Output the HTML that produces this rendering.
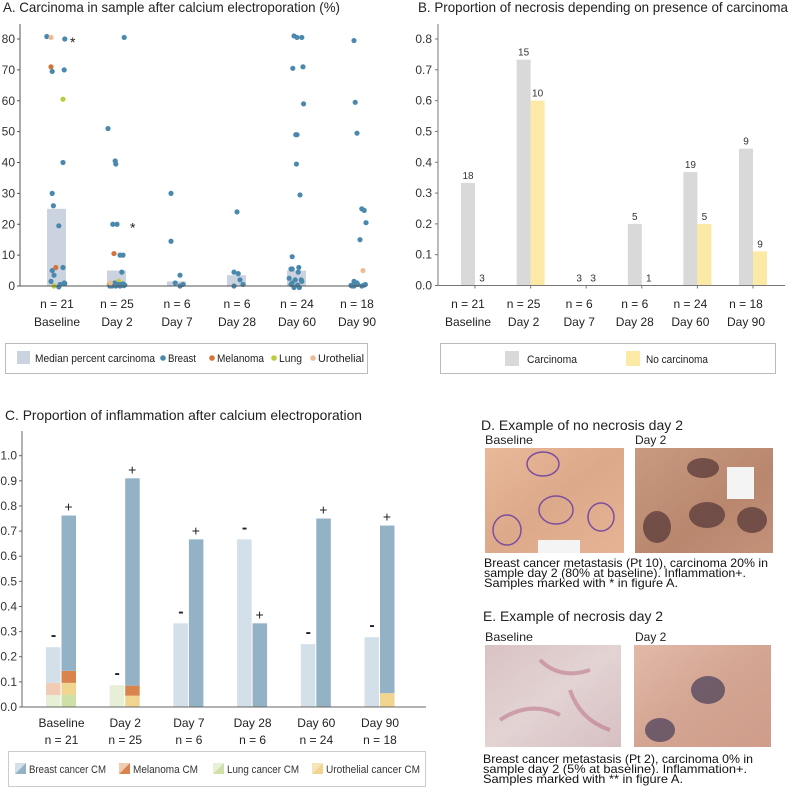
<!DOCTYPE html>
<html><head><meta charset="utf-8"><style>
html,body{margin:0;padding:0;background:#fff;}
svg{display:block;font-family:"Liberation Sans",sans-serif;}
.t{font-size:12px;fill:#222;}
.tk{font-size:12px;fill:#333;}
.ttl{font-size:14px;fill:#222;}
.cap{font-size:12px;fill:#111;}
</style></head><body>
<svg id="fig" width="790" height="788" viewBox="0 0 790 788">
<defs>
<linearGradient id="gD1" x1="0" y1="0" x2="1" y2="1"><stop offset="0" stop-color="#e9b99a"/><stop offset="0.5" stop-color="#dca98a"/><stop offset="1" stop-color="#e6b494"/></linearGradient>
<linearGradient id="gD2" x1="0" y1="0" x2="1" y2="1"><stop offset="0" stop-color="#c99a80"/><stop offset="0.6" stop-color="#b8876e"/><stop offset="1" stop-color="#c49179"/></linearGradient>
<linearGradient id="gE1" x1="0" y1="0" x2="1" y2="1"><stop offset="0" stop-color="#d9c2c4"/><stop offset="0.5" stop-color="#e3d3d3"/><stop offset="1" stop-color="#d6bfc2"/></linearGradient>
<linearGradient id="gE2" x1="0" y1="0" x2="1" y2="1"><stop offset="0" stop-color="#e2b9a8"/><stop offset="0.5" stop-color="#d3a592"/><stop offset="1" stop-color="#cf9c8a"/></linearGradient>
</defs>
<g id="panelA"></g>
<g id="panelB"></g>
<g id="panelC"></g>
<g id="panelDE">
<text class="ttl" x="481" y="430" textLength="202" lengthAdjust="spacingAndGlyphs">D. Example of no necrosis day 2</text>
<text class="t" x="485" y="444" textLength="48" lengthAdjust="spacingAndGlyphs">Baseline</text>
<text class="t" x="635" y="444">Day 2</text>
<rect x="485" y="448" width="139" height="105" fill="url(#gD1)"/>
<g fill="none" stroke="#7b4ea0" stroke-width="1.5">
<ellipse cx="543" cy="464" rx="16" ry="12"/><ellipse cx="507" cy="530" rx="14" ry="15"/><ellipse cx="556" cy="510" rx="17" ry="14"/><ellipse cx="601" cy="517" rx="13" ry="14"/></g>
<rect x="538" y="540" width="42" height="13" fill="#f4f4f4"/>
<rect x="635" y="448" width="138" height="105" fill="url(#gD2)"/>
<g fill="#5a3a3a" opacity="0.75"><ellipse cx="703" cy="468" rx="16" ry="10"/><ellipse cx="707" cy="515" rx="18" ry="13"/><ellipse cx="657" cy="527" rx="14" ry="16"/><ellipse cx="752" cy="520" rx="15" ry="13"/></g>
<rect x="727" y="467" width="27" height="32" fill="#f4f4f4"/>
<text class="cap" x="484" y="567" textLength="284" lengthAdjust="spacingAndGlyphs">Breast cancer metastasis (Pt 10), carcinoma 20% in</text>
<text class="cap" x="484" y="577" textLength="262" lengthAdjust="spacingAndGlyphs">sample day 2 (80% at baseline). Inflammation+.</text>
<text class="cap" x="484" y="587" textLength="194" lengthAdjust="spacingAndGlyphs">Samples marked with * in figure A.</text>
<text class="ttl" x="483" y="621" textLength="180" lengthAdjust="spacingAndGlyphs">E. Example of necrosis day 2</text>
<text class="t" x="485" y="641" textLength="48" lengthAdjust="spacingAndGlyphs">Baseline</text>
<text class="t" x="635" y="641">Day 2</text>
<rect x="485" y="645" width="136" height="102" fill="url(#gE1)"/>
<g stroke="#b86a80" stroke-width="4" fill="none" opacity="0.5"><path d="M540 660 q20 20 50 10 M500 720 q30 -20 60 -5 M570 690 q10 30 40 40"/></g>
<rect x="634" y="645" width="137" height="102" fill="url(#gE2)"/>
<g fill="#5f4f63" opacity="0.85"><ellipse cx="708" cy="690" rx="17" ry="14"/><ellipse cx="660" cy="730" rx="15" ry="12"/></g>
<text class="cap" x="483" y="763" textLength="270" lengthAdjust="spacingAndGlyphs">Breast cancer metastasis (Pt 2), carcinoma 0% in</text>
<text class="cap" x="483" y="773" textLength="264" lengthAdjust="spacingAndGlyphs">sample day 2 (5% at baseline).  Inflammation+.</text>
<text class="cap" x="483" y="783" textLength="200" lengthAdjust="spacingAndGlyphs">Samples marked with ** in figure A.</text>
</g>
</svg>
<script>
// ---------- shared ----------
const categories = ["Baseline","Day 2","Day 7","Day 28","Day 60","Day 90"];
const nLabels = ["n = 21","n = 25","n = 6","n = 6","n = 24","n = 18"];
// ---------- Panel A data ----------
const medianPercent = [25, 5, 1.5, 3.5, 5, 0];
const aTicks = [0,10,20,30,40,50,60,70,80];
// points: [categoryIndex, value, type, jitter(-0.5..0.5 of band)]
const pointsBaseline = [[0,80.8,"b",-0.17],[0,80.5,"u",-0.1],[0,80,"b",0.13],[0,71,"m",-0.1],[0,69.5,"b",-0.08],[0,70,"b",0.12],[0,60.5,"l",0.1],[0,40,"b",0.1],[0,30,"b",-0.08],[0,26,"b",-0.06],[0,19.5,"b",0.03],[0,6,"m",-0.02],[0,6,"b",0.1],[0,5,"b",-0.08],[0,3.5,"b",-0.05],[0,1,"b",0.12],[0,0.8,"b",0.13],[0,0,"l",-0.05],[0,-0.3,"b",0.03],[0,1.5,"b",-0.1],[0,0.5,"b",0.05]];
const pointsDay2 = [[1,51,"b",-0.15],[1,40.5,"b",-0.03],[1,39.5,"b",-0.02],[1,20,"b",-0.07],[1,20,"b",0.0],[1,80.5,"b",0.12],[1,10.5,"m",-0.05],[1,10,"b",0.05],[1,10,"b",0.1],[1,4.5,"b",0.08],[1,0.5,"l",-0.13],[1,1.5,"l",0.03],[1,0,"b",-0.12],[1,1,"b",-0.04],[1,0.5,"b",0.02],[1,0.3,"b",0.08],[1,0.3,"b",0.13],[1,0,"b",-0.08],[1,0,"b",-0.02],[1,0.7,"b",0.1],[1,0.2,"b",0.0],[1,0,"b",0.05],[1,1,"u",-0.11],[1,0.4,"b",0.06],[1,0.1,"b",0.11]];
const pointsDay7 = [[2,30,"b",-0.1],[2,14.5,"b",-0.1],[2,1,"b",-0.03],[2,3.5,"b",0.05],[2,0,"b",0.05],[2,0.5,"b",0.1]];
const pointsDay28 = [[3,24,"b",0.0],[3,4.5,"b",-0.05],[3,4,"b",0.02],[3,2,"b",0.05],[3,0.5,"b",0.1],[3,0,"b",-0.05]];
const pointsDay60 = [[4,81,"b",-0.05],[4,80.5,"b",0.0],[4,80.5,"b",0.08],[4,70.5,"b",-0.07],[4,71,"b",0.1],[4,59,"b",0.11],[4,49,"b",-0.02],[4,49,"b",0.0],[4,39.5,"b",-0.01],[4,29.5,"b",0.05],[4,9.5,"b",-0.08],[4,5.5,"b",-0.1],[4,5.5,"b",-0.08],[4,6,"b",0.03],[4,4.5,"b",0.02],[4,2.5,"b",-0.13],[4,2,"b",-0.03],[4,2,"b",0.07],[4,1.5,"b",0.08],[4,0.5,"b",-0.1],[4,-0.5,"b",-0.05],[4,-0.5,"b",0.04],[4,0.3,"b",0.01],[4,1,"b",-0.08]];
const pointsDay90 = [[5,79.5,"b",-0.05],[5,59.5,"b",-0.03],[5,49.5,"b",0.0],[5,25,"b",0.08],[5,24.5,"b",0.12],[5,20.5,"b",0.15],[5,15,"b",0.05],[5,5,"u",0.1],[5,1.5,"b",-0.05],[5,0,"b",-0.08],[5,0,"b",-0.05],[5,0.8,"b",-0.02],[5,0.5,"b",0.01],[5,0,"b",0.08],[5,0.3,"b",0.12],[5,0.5,"b",0.14],[5,1,"b",0.0],[5,0.2,"b",-0.1]];
const starMarks = [[0,80],[1,20]];
// ---------- Panel B data ----------
const necrosisCarcinoma = [0.333,0.733,0,0.2,0.368,0.444];
const necrosisNoCarcinoma = [0,0.6,0,0,0.2,0.111];
const countCarcinoma = ["18","15","3","5","19","9"];
const countNoCarcinoma = ["3","10","3","1","5","9"];
const bTicks = [0,0.1,0.2,0.3,0.4,0.5,0.6,0.7,0.8];
// ---------- Panel C data ----------
const minusLung = [0.048,0.087,0,0,0,0];
const minusMelanoma = [0.048,0,0,0,0,0];
const minusUrothelial = [0,0,0,0,0,0];
const minusBreast = [0.142,0,0.333,0.667,0.25,0.278];
const plusLung = [0.048,0,0,0,0,0];
const plusUrothelial = [0.048,0.045,0,0,0,0.055];
const plusMelanoma = [0.048,0.04,0,0,0,0];
const plusBreast = [0.618,0.825,0.667,0.333,0.75,0.667];
const cTicks = [0,0.1,0.2,0.3,0.4,0.5,0.6,0.7,0.8,0.9,1.0];

const NS="http://www.w3.org/2000/svg";
function mk(tag,attrs,parent,text){const e=document.createElementNS(NS,tag);for(const k in attrs)e.setAttribute(k,attrs[k]);if(text!==undefined)e.textContent=text;parent.appendChild(e);return e;}
const fmt1=v=>v.toFixed(1);
const LA='spacingAndGlyphs';

// ===== Panel A =====
(function(){
const g=document.getElementById('panelA');
const y0=286, per=247/80; const yA=v=>y0-v*per;
const xA=i=>57+i*60; const band=60;
let e;
e=mk('text',{x:3,y:12,class:'ttl',textLength:337,lengthAdjust:LA},g,'A.  Carcinoma in sample after calcium electroporation (%)');


medianPercent.forEach((v,i)=>{e=mk('rect',{x:xA(i)-10,y:yA(v),width:19,height:Math.max(0,y0-yA(v)),fill:'#ccd3e0'},g);

});
const col={b:'#4a88ad',m:'#d4733a',l:'#bccc3a',u:'#ecbc96'};
const all=[].concat(pointsBaseline,pointsDay2,pointsDay7,pointsDay28,pointsDay60,pointsDay90);
all.forEach(p=>{e=mk('circle',{cx:xA(p[0])+p[3]*band,cy:yA(p[1]),r:2.6,fill:col[p[2]]},g);

});
starMarks.forEach(s=>{e=mk('text',{x:xA(s[0])+13,y:yA(s[1])+8,'font-size':'14',fill:'#222'},g,'*');

});
e=mk('line',{x1:20,y1:24,x2:20,y2:y0,stroke:'#555','stroke-width':1},g);


e=mk('line',{x1:20,y1:y0,x2:366,y2:y0,stroke:'#555','stroke-width':1},g);


aTicks.forEach(t=>{mk('line',{x1:17,y1:yA(t),x2:20,y2:yA(t),stroke:'#555'},g);
e=mk('text',{x:15,y:yA(t)+4,class:'tk','text-anchor':'end'},g,String(t));

});
categories.forEach((c,i)=>{e=mk('text',{x:xA(i),y:308,class:'t','text-anchor':'middle'},g,nLabels[i]);


e=mk('text',{x:xA(i),y:326,class:'t','text-anchor':'middle'},g,c);

});
const lg=mk('g',{},g);


mk('rect',{x:5.5,y:343.5,width:362,height:30,fill:'#fff',stroke:'#bbb'},lg);
mk('rect',{x:17,y:351,width:13,height:13,fill:'#ccd3e0'},lg);
mk('text',{x:35,y:362,'font-size':'11',fill:'#222',textLength:120,lengthAdjust:LA},lg,'Median percent carcinoma');
[['Breast',163,col.b,28],['Melanoma',212,col.m,47],['Lung',274,col.l,23],['Urothelial',313,col.u,46]].forEach(a=>{
mk('circle',{cx:a[1],cy:358,r:2.8,fill:a[2]},lg);
e=mk('text',{x:a[1]+5,y:362,'font-size':'11',fill:'#222',textLength:a[3],lengthAdjust:LA},lg,a[0]);

});
})();

// ===== Panel B =====
(function(){
const g=document.getElementById('panelB');
const y0=285.5, per=246.5/0.8; const yB=v=>y0-v*per;
const xB=i=>475+i*55.6;
let e;
e=mk('text',{x:418,y:12,class:'ttl',textLength:370,lengthAdjust:LA},g,'B.  Proportion of necrosis depending on presence of carcinoma');


categories.forEach((c,i)=>{
e=mk('rect',{x:xB(i)-14,y:yB(necrosisCarcinoma[i]),width:14,height:y0-yB(necrosisCarcinoma[i]),fill:'#d9d9d9'},g);


e=mk('rect',{x:xB(i),y:yB(necrosisNoCarcinoma[i]),width:14,height:y0-yB(necrosisNoCarcinoma[i]),fill:'#fbe9a5'},g);


e=mk('text',{x:xB(i)-7,y:yB(necrosisCarcinoma[i])-4,'font-size':'10','text-anchor':'middle',fill:'#333'},g,countCarcinoma[i]);


e=mk('text',{x:xB(i)+7,y:yB(necrosisNoCarcinoma[i])-4,'font-size':'10','text-anchor':'middle',fill:'#333'},g,countNoCarcinoma[i]);


mk('line',{x1:xB(i),y1:y0,x2:xB(i),y2:y0+3,stroke:'#777'},g);
e=mk('text',{x:xB(i)-7,y:308,class:'t','text-anchor':'middle'},g,nLabels[i]);


e=mk('text',{x:xB(i)-7,y:326,class:'t','text-anchor':'middle'},g,c);


});
e=mk('line',{x1:438,y1:24,x2:438,y2:y0,stroke:'#777'},g);


e=mk('line',{x1:438,y1:y0,x2:785,y2:y0,stroke:'#777'},g);


bTicks.forEach(t=>{mk('line',{x1:435,y1:yB(t),x2:438,y2:yB(t),stroke:'#777'},g);
e=mk('text',{x:432,y:yB(t)+4,class:'tk','text-anchor':'end'},g,fmt1(t));

});
const lg=mk('g',{},g);


mk('rect',{x:440.5,y:343.5,width:335,height:30,fill:'#fff',stroke:'#bbb'},lg);
mk('rect',{x:505,y:351,width:14,height:15,fill:'#d9d9d9'},lg);
mk('text',{x:527,y:363,'font-size':'11',fill:'#222',textLength:50,lengthAdjust:LA},lg,'Carcinoma');
mk('rect',{x:626,y:351,width:14,height:15,fill:'#fbe9a5'},lg);
mk('text',{x:646,y:363,'font-size':'11',fill:'#222',textLength:62,lengthAdjust:LA},lg,'No carcinoma');
})();

// ===== Panel C =====
(function(){
const g=document.getElementById('panelC');
const y0=707, per=251.3; const yC=v=>y0-v*per;
const xC=i=>61.5+i*63.7;
let e;
e=mk('text',{x:5,y:420,class:'ttl',textLength:357,lengthAdjust:LA},g,'C. Proportion of inflammation after calcium electroporation');


const minusStacks=[[minusLung,'#e7f0d6','lung'],[minusMelanoma,'#f2cbb5','melanoma'],[minusUrothelial,'#f7e4b8','urothelial'],[minusBreast,'#d3e0ea','breast']];
const plusStacks=[[plusLung,'#cfe0a6','lung'],[plusUrothelial,'#f0d591','urothelial'],[plusMelanoma,'#d9844d','melanoma'],[plusBreast,'#93b2c6','breast']];
categories.forEach((c,i)=>{
let acc=0;
minusStacks.forEach(s=>{const v=s[0][i]; if(v>0){e=mk('rect',{x:xC(i)-15.5,y:yC(acc+v),width:14.5,height:v*per,fill:s[1]},g);

} acc+=v;});
e=mk('text',{x:xC(i)-8,y:yC(acc)-7,'font-size':'16','text-anchor':'middle',fill:'#222','font-weight':'bold'},g,'-');


acc=0;
plusStacks.forEach(s=>{const v=s[0][i]; if(v>0){e=mk('rect',{x:xC(i),y:yC(acc+v),width:14.5,height:v*per,fill:s[1]},g);

} acc+=v;});
e=mk('text',{x:xC(i)+7,y:yC(acc)-4,'font-size':'14','text-anchor':'middle',fill:'#222'},g,'+');


e=mk('text',{x:xC(i),y:727,class:'t','text-anchor':'middle'},g,c);


e=mk('text',{x:xC(i),y:744,class:'t','text-anchor':'middle'},g,nLabels[i]);


});
e=mk('line',{x1:22,y1:431,x2:22,y2:y0,stroke:'#666'},g);


e=mk('line',{x1:22,y1:y0,x2:426,y2:y0,stroke:'#666'},g);


cTicks.forEach(t=>{mk('line',{x1:19,y1:yC(t),x2:22,y2:yC(t),stroke:'#666'},g);
e=mk('text',{x:17,y:yC(t)+4,class:'tk','text-anchor':'end'},g,fmt1(t));

});
const lg=mk('g',{},g);


mk('rect',{x:8.5,y:751.5,width:417,height:35,fill:'#fff',stroke:'#ccc'},lg);
[['Breast cancer CM',15,'#d3e0ea','#93b2c6',77],['Melanoma CM',119,'#f2cbb5','#d9844d',65],['Lung cancer CM',213,'#e7f0d6','#cfe0a6',72],['Urothelial cancer CM',312,'#f7e4b8','#f0d591',94]].forEach(a=>{
mk('polygon',{points:`${a[1]},${763} ${a[1]+11},${763} ${a[1]},${774}`,fill:a[2]},lg);
mk('polygon',{points:`${a[1]+11},${763} ${a[1]+11},${774} ${a[1]},${774}`,fill:a[3]},lg);
e=mk('text',{x:a[1]+14,y:773,'font-size':'11',fill:'#333',textLength:a[4],lengthAdjust:LA},lg,a[0]);

});
})();
</script>
</body></html>
